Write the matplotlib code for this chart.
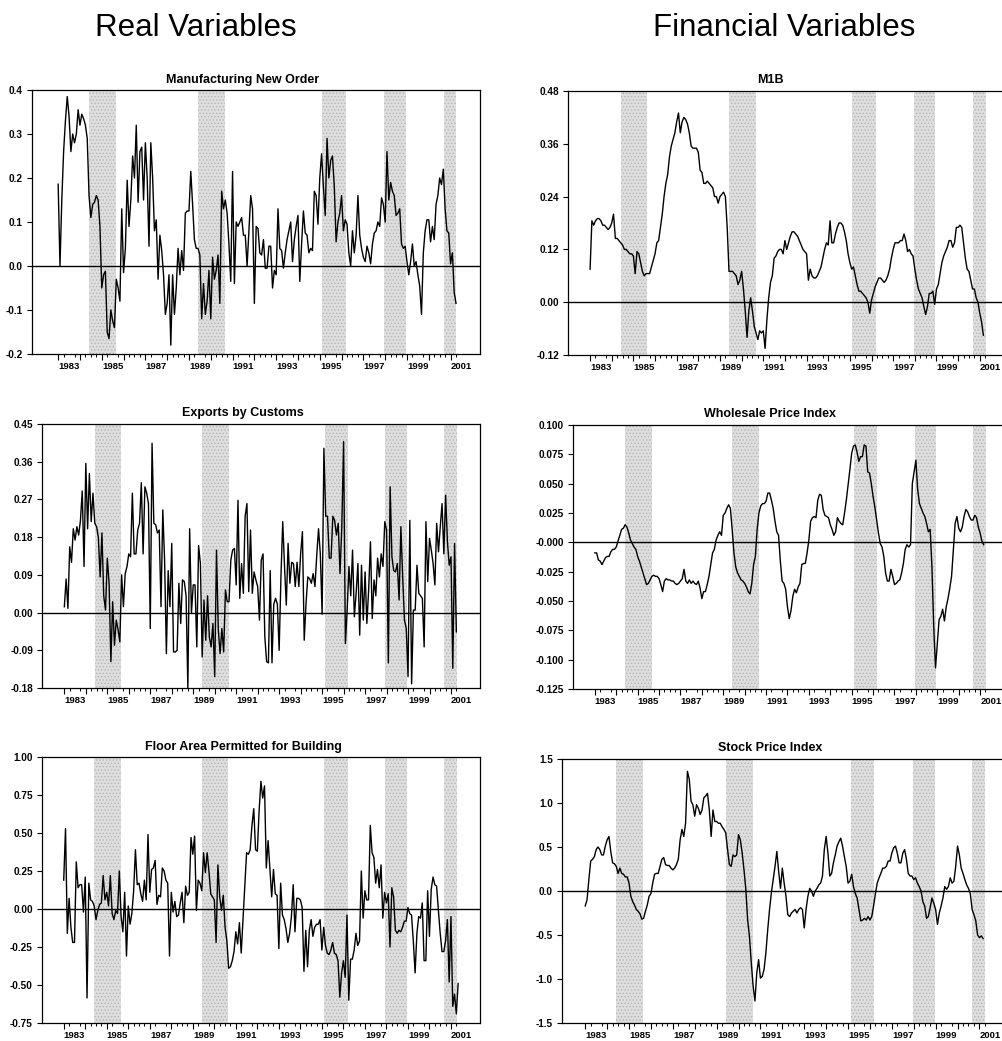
import numpy as np
import matplotlib
matplotlib.use('Agg')
import matplotlib.pyplot as plt

plt.rcParams['font.family'] = ['Liberation Sans', 'DejaVu Sans']
plt.rcParams['hatch.linewidth'] = 0.6

# ---------------- data ----------------
START_YEAR = 1983.0  # first monthly observation (Jan 1983)

recessions = [(1984.42, 1985.65), (1989.42, 1990.65), (1995.12, 1996.20),
              (1997.95, 1998.95), (2000.68, 2001.27)]

year_labels = [1983, 1985, 1987, 1989, 1991, 1993, 1995, 1997, 1999, 2001]

manufacturing = [
    0.186, 0.0, 0.15, 0.26, 0.33, 0.385, 0.34, 0.26, 0.30, 0.28,
    0.30, 0.355, 0.32, 0.345, 0.335, 0.32, 0.29, 0.16, 0.11, 0.14,
    0.145, 0.16, 0.15, 0.09, -0.05, -0.02, -0.012, -0.15, -0.165, -0.10,
    -0.125, -0.14, -0.03, -0.05, -0.08, 0.13, -0.015, 0.04, 0.195, 0.09,
    0.15, 0.25, 0.20, 0.32, 0.145, 0.26, 0.27, 0.15, 0.28, 0.20,
    0.045, 0.28, 0.20, 0.08, 0.105, -0.03, 0.07, 0.035, -0.02, -0.11,
    -0.085, -0.02, -0.18, -0.02, -0.11, -0.05, 0.04, -0.02, 0.035, -0.01,
    0.12, 0.125, 0.125, 0.215, 0.14, 0.06, 0.04, 0.04, 0.025, -0.12,
    -0.04, -0.11, -0.08, -0.01, -0.12, 0.02, -0.03, -0.01, 0.025, -0.085,
    0.17, 0.13, 0.15, 0.12, 0.05, -0.035, 0.215, -0.04, 0.10, 0.09,
    0.10, 0.11, 0.07, 0.07, 0.00, 0.08, 0.16, 0.13, -0.085, 0.09,
    0.085, 0.03, 0.025, 0.06, -0.005, -0.005, 0.045, 0.045, -0.05, -0.01,
    -0.02, 0.13, 0.04, 0.035, -0.005, 0.03, 0.06, 0.08, 0.10, 0.01,
    0.06, 0.09, 0.115, -0.035, 0.05, 0.125, 0.075, 0.07, 0.03, 0.04,
    0.035, 0.17, 0.16, 0.095, 0.20, 0.255, 0.18, 0.115, 0.29, 0.20,
    0.24, 0.25, 0.18, 0.055, 0.10, 0.12, 0.16, 0.08, 0.105, 0.095,
    0.03, 0.00, 0.08, 0.03, 0.07, 0.16, 0.07, 0.04, 0.02, 0.01,
    0.045, 0.03, 0.005, 0.05, 0.075, 0.08, 0.10, 0.09, 0.155, 0.14,
    0.10, 0.26, 0.15, 0.19, 0.17, 0.16, 0.115, 0.12, 0.13, 0.05,
    0.04, 0.045, 0.01, -0.02, 0.01, 0.05, 0.00, 0.01, -0.02, -0.045,
    -0.11, 0.03, 0.08, 0.105, 0.105, 0.055, 0.09, 0.06, 0.14, 0.16,
    0.20, 0.185, 0.22, 0.13, 0.08, 0.075, 0.005, 0.03, -0.06, -0.085]

m1b = [
    0.075, 0.185, 0.175, 0.185, 0.19, 0.19, 0.185, 0.175, 0.175, 0.17,
    0.165, 0.17, 0.18, 0.20, 0.145, 0.145, 0.14, 0.135, 0.13, 0.12,
    0.12, 0.115, 0.11, 0.11, 0.105, 0.065, 0.115, 0.11, 0.09, 0.07,
    0.06, 0.065, 0.065, 0.065, 0.08, 0.095, 0.11, 0.135, 0.14, 0.17,
    0.20, 0.24, 0.27, 0.29, 0.33, 0.355, 0.37, 0.385, 0.41, 0.43,
    0.385, 0.41, 0.42, 0.415, 0.405, 0.385, 0.355, 0.35, 0.35, 0.35,
    0.34, 0.30, 0.295, 0.27, 0.27, 0.275, 0.27, 0.265, 0.26, 0.24,
    0.24, 0.225, 0.24, 0.245, 0.25, 0.24, 0.17, 0.07, 0.07, 0.07,
    0.065, 0.06, 0.04, 0.05, 0.07, 0.03, -0.02, -0.08, -0.02, 0.01,
    -0.02, -0.055, -0.07, -0.085, -0.065, -0.07, -0.065, -0.105, -0.04, 0.01,
    0.045, 0.06, 0.10, 0.105, 0.115, 0.12, 0.12, 0.11, 0.14, 0.12,
    0.135, 0.15, 0.16, 0.16, 0.155, 0.15, 0.14, 0.13, 0.12, 0.115,
    0.11, 0.05, 0.075, 0.06, 0.055, 0.055, 0.06, 0.07, 0.08, 0.10,
    0.12, 0.135, 0.13, 0.185, 0.135, 0.135, 0.155, 0.17, 0.18, 0.18,
    0.175, 0.16, 0.14, 0.11, 0.09, 0.075, 0.08, 0.06, 0.04, 0.025,
    0.025, 0.02, 0.015, 0.01, 0.00, -0.025, 0.005, 0.02, 0.035, 0.045,
    0.055, 0.055, 0.05, 0.045, 0.05, 0.06, 0.075, 0.10, 0.12, 0.135,
    0.135, 0.135, 0.14, 0.14, 0.155, 0.14, 0.115, 0.12, 0.11, 0.105,
    0.075, 0.05, 0.03, 0.02, 0.01, -0.01, -0.028, -0.01, 0.02, 0.02,
    0.025, -0.005, 0.03, 0.04, 0.065, 0.09, 0.105, 0.115, 0.125, 0.14,
    0.14, 0.125, 0.135, 0.17, 0.17, 0.175, 0.17, 0.135, 0.10, 0.075,
    0.07, 0.05, 0.03, 0.03, 0.01, 0.00, -0.025, -0.045, -0.075]

exports = [
    0.014, 0.08, 0.01, 0.157, 0.12, 0.20, 0.173, 0.205, 0.185, 0.22,
    0.29, 0.11, 0.356, 0.20, 0.332, 0.217, 0.285, 0.213, 0.205, 0.18,
    0.085, 0.19, 0.04, 0.006, 0.13, 0.07, -0.117, 0.026, -0.078, -0.018,
    -0.04, -0.07, 0.09, 0.014, 0.093, 0.11, 0.14, 0.133, 0.285, 0.14,
    0.14, 0.197, 0.213, 0.31, 0.14, 0.30, 0.285, 0.26, -0.038, 0.404,
    0.213, 0.21, 0.19, 0.197, 0.014, 0.245, 0.125, -0.098, 0.10, 0.014,
    0.165, -0.094, -0.094, -0.09, 0.07, -0.026, 0.078, 0.074, 0.04, -0.18,
    0.20, -0.002, 0.066, 0.066, -0.082, 0.16, 0.117, -0.106, 0.03, -0.066,
    0.04, -0.058, -0.082, -0.026, -0.153, 0.149, -0.04, -0.098, -0.038, -0.094,
    0.054, 0.026, 0.026, 0.125, 0.149, 0.153, 0.066, 0.268, 0.034, 0.117,
    0.046, 0.23, 0.26, 0.05, 0.197, 0.046, 0.097, 0.078, 0.062, -0.018,
    0.125, 0.14, -0.058, -0.117, -0.12, 0.10, -0.12, 0.02, 0.034, 0.02,
    -0.09, 0.085, 0.217, 0.11, 0.018, 0.165, 0.07, 0.12, 0.117, 0.062,
    0.12, 0.062, 0.14, 0.193, -0.066, 0.02, 0.085, 0.081, 0.07, 0.093,
    0.062, 0.137, 0.20, 0.14, -0.004, 0.392, 0.23, 0.23, 0.13, 0.13,
    0.23, 0.22, 0.185, 0.213, 0.093, 0.205, 0.408, -0.074, 0.006, 0.11,
    0.04, 0.149, -0.01, 0.046, 0.117, -0.054, 0.113, -0.018, 0.097, -0.026,
    0.054, 0.169, -0.014, 0.078, 0.04, 0.13, 0.085, 0.14, 0.11, 0.217,
    0.197, -0.12, 0.30, 0.133, 0.10, 0.097, 0.117, 0.03, 0.205, 0.085,
    -0.018, -0.038, -0.153, 0.22, -0.17, 0.006, 0.006, 0.113, 0.046, 0.04,
    0.034, -0.082, 0.217, 0.074, 0.177, 0.149, 0.117, 0.066, 0.213, 0.145,
    0.205, 0.26, 0.14, 0.28, 0.169, 0.113, 0.133, -0.133, 0.165, -0.046]

wpi = [
    -0.009, -0.009, -0.015, -0.016, -0.019, -0.016, -0.013, -0.012, -0.012, -0.008,
    -0.006, -0.006, -0.004, 0.001, 0.006, 0.011, 0.012, 0.015, 0.013, 0.008,
    0.002, -0.001, -0.004, -0.006, -0.012, -0.016, -0.021, -0.026, -0.031, -0.036,
    -0.035, -0.032, -0.029, -0.028, -0.029, -0.029, -0.031, -0.036, -0.042, -0.033,
    -0.031, -0.032, -0.032, -0.033, -0.033, -0.035, -0.036, -0.035, -0.033, -0.031,
    -0.023, -0.033, -0.035, -0.032, -0.035, -0.033, -0.035, -0.036, -0.033, -0.039,
    -0.048, -0.042, -0.042, -0.036, -0.029, -0.019, -0.009, -0.006, 0.002, 0.006,
    0.009, 0.006, 0.023, 0.025, 0.029, 0.032, 0.029, 0.011, -0.009, -0.021,
    -0.026, -0.029, -0.032, -0.033, -0.035, -0.038, -0.042, -0.044, -0.035, -0.019,
    -0.012, 0.011, 0.025, 0.031, 0.033, 0.033, 0.035, 0.042, 0.042, 0.036,
    0.029, 0.018, 0.009, 0.006, -0.016, -0.033, -0.035, -0.040, -0.055, -0.065,
    -0.058, -0.046, -0.040, -0.043, -0.038, -0.035, -0.019, -0.018, -0.018, -0.009,
    0.002, 0.018, 0.021, 0.022, 0.021, 0.036, 0.041, 0.040, 0.028, 0.023,
    0.022, 0.021, 0.015, 0.011, 0.006, 0.009, 0.021, 0.018, 0.016, 0.015,
    0.025, 0.036, 0.049, 0.062, 0.076, 0.082, 0.083, 0.077, 0.069, 0.073,
    0.073, 0.083, 0.082, 0.060, 0.059, 0.050, 0.039, 0.030, 0.019, 0.008,
    -0.001, -0.004, -0.012, -0.026, -0.033, -0.033, -0.023, -0.029, -0.036, -0.035,
    -0.033, -0.032, -0.026, -0.018, -0.006, -0.002, -0.004, -0.002, 0.050, 0.060,
    0.070, 0.045, 0.033, 0.029, 0.025, 0.022, 0.016, 0.009, 0.011, -0.021,
    -0.072, -0.107, -0.086, -0.066, -0.063, -0.057, -0.067, -0.055, -0.048, -0.039,
    -0.029, -0.006, 0.016, 0.022, 0.012, 0.009, 0.013, 0.022, 0.028, 0.026,
    0.022, 0.019, 0.019, 0.023, 0.021, 0.013, 0.008, 0.001, -0.002]

floor_area = [
    0.19, 0.53, -0.16, 0.07, -0.12, -0.22, -0.22, 0.31, 0.14, 0.16,
    0.16, -0.02, 0.21, -0.585, 0.17, 0.06, 0.05, 0.02, -0.07, -0.01,
    0.03, 0.04, 0.22, 0.06, 0.11, 0.02, 0.22, -0.03, -0.07, -0.01,
    -0.03, 0.25, -0.05, -0.15, 0.11, -0.31, 0.02, -0.10, -0.03, 0.12,
    0.39, 0.16, 0.17, 0.10, 0.05, 0.19, 0.06, 0.49, 0.11, 0.26,
    0.27, 0.32, 0.03, 0.09, 0.08, 0.27, 0.25, 0.19, 0.17, -0.31,
    0.11, -0.02, 0.05, -0.05, -0.04, 0.04, 0.11, -0.09, 0.15, 0.09,
    0.11, 0.47, 0.36, 0.48, -0.01, 0.19, 0.17, 0.12, 0.37, 0.24,
    0.37, 0.25, 0.10, 0.08, 0.06, -0.22, 0.29, 0.08, -0.01, 0.09,
    -0.12, -0.21, -0.39, -0.38, -0.34, -0.28, -0.15, -0.23, -0.09, -0.29,
    -0.07, 0.15, 0.37, 0.36, 0.39, 0.55, 0.66, 0.39, 0.38, 0.65,
    0.84, 0.73, 0.81, 0.27, 0.45, 0.26, 0.08, 0.26, 0.10, 0.09,
    -0.26, 0.17, -0.04, -0.07, -0.13, -0.22, -0.16, -0.05, 0.16, -0.15,
    0.07, 0.07, 0.06, 0.01, -0.41, -0.14, -0.38, -0.14, -0.07, -0.18,
    -0.12, -0.10, -0.10, -0.07, -0.27, -0.12, -0.24, -0.29, -0.30, -0.27,
    -0.22, -0.29, -0.30, -0.34, -0.58, -0.42, -0.34, -0.45, -0.04, -0.60,
    -0.33, -0.33, -0.27, -0.16, -0.24, -0.21, 0.25, -0.06, 0.12, 0.06,
    0.06, 0.55, 0.37, 0.34, 0.17, 0.26, 0.14, 0.29, -0.06, 0.11,
    0.04, 0.10, -0.25, 0.14, 0.08, -0.14, -0.16, -0.14, -0.15, -0.12,
    -0.08, -0.08, 0.01, -0.03, -0.04, -0.21, -0.42, -0.16, -0.05, -0.06,
    0.04, -0.34, -0.34, 0.12, -0.18, 0.13, 0.21, 0.16, 0.15, -0.01,
    -0.16, -0.28, -0.28, -0.21, -0.07, -0.48, -0.05, -0.64, -0.56, -0.69,
    -0.49]

stock = [
    -0.17, -0.10, 0.13, 0.34, 0.36, 0.39, 0.47, 0.50, 0.47, 0.41,
    0.41, 0.51, 0.58, 0.62, 0.45, 0.32, 0.31, 0.28, 0.20, 0.26,
    0.20, 0.19, 0.16, 0.16, 0.09, -0.06, -0.12, -0.16, -0.21, -0.23,
    -0.26, -0.32, -0.31, -0.23, -0.16, -0.06, -0.03, 0.09, 0.19, 0.20,
    0.20, 0.28, 0.36, 0.38, 0.30, 0.29, 0.29, 0.26, 0.24, 0.26,
    0.30, 0.36, 0.58, 0.70, 0.62, 0.77, 1.36, 1.27, 1.02, 0.98,
    0.85, 0.98, 0.94, 0.87, 0.92, 1.06, 1.08, 1.11, 0.92, 0.62,
    0.92, 0.79, 0.79, 0.77, 0.77, 0.73, 0.70, 0.66, 0.47, 0.30,
    0.28, 0.41, 0.39, 0.41, 0.64, 0.58, 0.43, 0.24, 0.02, -0.33,
    -0.52, -0.82, -1.08, -1.25, -0.93, -0.78, -0.99, -0.97, -0.89, -0.70,
    -0.44, -0.21, -0.02, 0.13, 0.28, 0.45, 0.22, 0.03, 0.26, 0.09,
    -0.06, -0.27, -0.29, -0.25, -0.23, -0.21, -0.25, -0.21, -0.19, -0.21,
    -0.42, -0.21, -0.06, 0.03, 0.00, -0.06, 0.00, 0.03, 0.07, 0.09,
    0.17, 0.47, 0.62, 0.43, 0.17, 0.20, 0.32, 0.41, 0.51, 0.56,
    0.60, 0.51, 0.39, 0.28, 0.09, 0.11, 0.19, 0.05, -0.03, -0.08,
    -0.21, -0.34, -0.33, -0.31, -0.33, -0.29, -0.33, -0.29, -0.17, -0.03,
    0.09, 0.15, 0.20, 0.26, 0.26, 0.28, 0.34, 0.34, 0.43, 0.49,
    0.51, 0.43, 0.32, 0.32, 0.43, 0.47, 0.36, 0.20, 0.17, 0.17,
    0.13, 0.15, 0.09, 0.05, 0.00, -0.12, -0.17, -0.31, -0.29, -0.19,
    -0.08, -0.14, -0.21, -0.38, -0.25, -0.17, -0.08, 0.05, 0.02, 0.05,
    0.15, 0.09, 0.11, 0.28, 0.51, 0.41, 0.26, 0.20, 0.13, 0.07,
    0.03, -0.03, -0.21, -0.27, -0.34, -0.50, -0.53, -0.51, -0.54]

titles = ["Manufacturing New Order", "M1B", "Exports by Customs",
          "Wholesale Price Index", "Floor Area Permitted for Building",
          "Stock Price Index"]

yt_manuf = [-0.2, -0.1, 0.0, 0.1, 0.2, 0.3, 0.4]
yl_manuf = ["-0.2", "-0.1", "0.0", "0.1", "0.2", "0.3", "0.4"]
yt_m1b = [-0.12, 0.0, 0.12, 0.24, 0.36, 0.48]
yl_m1b = ["-0.12", "0.00", "0.12", "0.24", "0.36", "0.48"]
yt_exp = [-0.18, -0.09, 0.0, 0.09, 0.18, 0.27, 0.36, 0.45]
yl_exp = ["-0.18", "-0.09", "0.00", "0.09", "0.18", "0.27", "0.36", "0.45"]
yt_wpi = [-0.125, -0.100, -0.075, -0.050, -0.025, 0.0, 0.025, 0.050, 0.075, 0.100]
yl_wpi = ["-0.125", "-0.100", "-0.075", "-0.050", "-0.025", "-0.000",
          "0.025", "0.050", "0.075", "0.100"]
yt_floor = [-0.75, -0.50, -0.25, 0.0, 0.25, 0.50, 0.75, 1.00]
yl_floor = ["-0.75", "-0.50", "-0.25", "0.00", "0.25", "0.50", "0.75", "1.00"]
yt_stock = [-1.5, -1.0, -0.5, 0.0, 0.5, 1.0, 1.5]
yl_stock = ["-1.5", "-1.0", "-0.5", "0.0", "0.5", "1.0", "1.5"]

# ---------------- layout (pixels) ----------------
W, H = 1002, 1041
fig = plt.figure(figsize=(W / 100, H / 100), dpi=100)
fig.patch.set_facecolor('white')

panels = [
    # series, title, yticks, ylabels, (left, right, top, bottom), xlim-left, title x, title y
    (manufacturing, titles[0], yt_manuf, yl_manuf, (32, 480, 90, 354), 1981.80, 243, 80),
    (m1b, titles[1], yt_m1b, yl_m1b, (568, 1009, 91, 355), 1981.98, 770, 80),
    (exports, titles[2], yt_exp, yl_exp, (42, 480, 424, 688), 1981.96, 243, 413),
    (wpi, titles[3], yt_wpi, yl_wpi, (573, 1009, 425, 689), 1981.98, 770, 414),
    (floor_area, titles[4], yt_floor, yl_floor, (42, 480, 757, 1023), 1981.99, 243, 747),
    (stock, titles[5], yt_stock, yl_stock, (562, 1009, 759, 1023), 1981.94, 770, 748),
]

XRIGHT = 2002.35
quarters = np.arange(1983.0, 2001.26, 0.25)
years = np.arange(1983, 2002)

for series, title, yt, yl, (l, r, t, b), xl, tx, ty in panels:
    ax = fig.add_axes([l / W, 1 - b / H, (r - l) / W, (b - t) / H])
    vals = np.asarray(series, dtype=float)
    dates = START_YEAR + np.arange(len(vals)) / 12.0
    for s, e in recessions:
        ax.axvspan(s, e, facecolor='#dedede', edgecolor='#b5b5b5',
                   hatch='.....', linewidth=0, zorder=0)
    ax.axhline(0, color='black', lw=1.0, zorder=2)
    ax.plot(dates, vals, color='black', lw=1.0, zorder=3)
    ax.set_xlim(xl, XRIGHT)
    ax.set_ylim(yt[0], yt[-1])

    ax.set_yticks(yt)
    ax.set_yticklabels(yl, fontsize=7.2, fontweight='bold')
    ax.tick_params(axis='y', direction='out', length=3.5, width=0.8, pad=3)

    ax.set_xticks([y + 0.5 for y in year_labels])
    ax.set_xticklabels([str(y) for y in year_labels], fontsize=6.8, fontweight='bold')
    ax.tick_params(axis='x', which='major', length=0, pad=5.5)
    ax.set_xticks(quarters, minor=True)
    ax.tick_params(axis='x', which='minor', direction='out', length=2.2, width=0.7)

    sec = ax.secondary_xaxis('bottom')
    sec.set_xticks(years)
    sec.set_xticklabels([])
    sec.tick_params(length=4, width=0.8, direction='out')
    for sp in sec.spines.values():
        sp.set_visible(False)

    for sp in ax.spines.values():
        sp.set_linewidth(0.9)
        sp.set_color('black')

    fig.text(tx / W, 1 - ty / H, title, ha='center', va='center',
             fontsize=9, fontweight='bold')

fig.text(196 / W, 1 - 28 / H, "Real Variables", ha='center', va='center', fontsize=22.5)
fig.text(784 / W, 1 - 28 / H, "Financial Variables", ha='center', va='center', fontsize=22.5)

fig.savefig('out.png', dpi=100, facecolor='white')
